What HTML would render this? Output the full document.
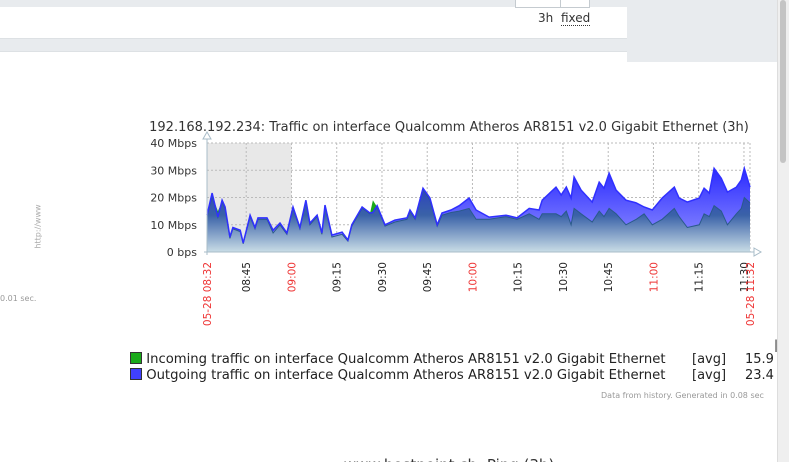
<!DOCTYPE html>
<html><head><meta charset="utf-8">
<style>
html,body{margin:0;padding:0;width:789px;height:462px;overflow:hidden;background:#fff;font-family:"DejaVu Sans","Liberation Sans",sans-serif;}
.abs{position:absolute;}
</style></head>
<body>
<div class="abs" style="left:0;top:0;width:627px;height:7px;background:#e8ebee;"></div>
<div class="abs" style="left:515px;top:-1px;width:44px;height:7px;background:#fff;border:1px solid #c5cbd0;"></div>
<div class="abs" style="left:560px;top:-1px;width:28px;height:7px;background:#fff;border:1px solid #c5cbd0;"></div>
<div class="abs" style="left:538px;top:11px;font-size:12px;color:#333;">3h</div>
<div class="abs" style="left:561px;top:11px;font-size:12px;color:#333;border-bottom:1px dotted #333;line-height:14px;">fixed</div>
<div class="abs" style="left:0;top:38px;width:627px;height:12px;background:#e8ebee;border-top:1px solid #dde1e4;border-bottom:1px solid #dde1e4;"></div>
<div class="abs" style="left:627px;top:0;width:150px;height:62px;background:#e8ebee;"></div>
<div class="abs" style="left:777px;top:0;width:12px;height:462px;background:#efefef;border-left:1px solid #ddd;"></div>
<div class="abs" style="left:780px;top:0;width:6px;height:163px;background:#c4c4c4;border-radius:3px;"></div>

<div class="abs" style="left:8px;top:222px;font-size:8px;color:#aaa;transform:rotate(-90deg);transform-origin:center;width:60px;text-align:center;">http://www</div>
<div class="abs" style="left:0;top:294px;font-size:8px;color:#999;">0.01 sec.</div>

<svg class="abs" style="left:0;top:0" width="777" height="462">
<defs>
<linearGradient id="gOut" x1="0" y1="0" x2="0" y2="1"><stop offset="0" stop-color="#2a2aff"/><stop offset="1" stop-color="#9a9aff"/></linearGradient>
<linearGradient id="gIn" gradientUnits="userSpaceOnUse" x1="0" y1="185" x2="0" y2="252"><stop offset="0" stop-color="#2a3fc0"/><stop offset="0.45" stop-color="#3a62a8"/><stop offset="1" stop-color="#c9dde6"/></linearGradient>
</defs>
<text x="449" y="131" text-anchor="middle" font-size="13" fill="#333">192.168.192.234: Traffic on interface Qualcomm Atheros AR8151 v2.0 Gigabit Ethernet (3h)</text>
<g id="plot"></g>
<text x="449" y="470" font-size="15" fill="#333" text-anchor="middle">www.hostpoint.ch: Ping (3h)</text>
</svg>

<div class="abs" style="left:130px;top:352px;font-size:13.2px;color:#222;white-space:nowrap;">
<span style="display:inline-block;width:10px;height:10px;background:#1aaa1a;border:1px solid #333;vertical-align:-1px;"></span> Incoming traffic on interface Qualcomm Atheros AR8151 v2.0 Gigabit Ethernet</div>
<div class="abs" style="left:130px;top:368px;font-size:13.2px;color:#222;white-space:nowrap;">
<span style="display:inline-block;width:10px;height:10px;background:#4040ff;border:1px solid #333;vertical-align:-1px;"></span> Outgoing traffic on interface Qualcomm Atheros AR8151 v2.0 Gigabit Ethernet</div>
<div class="abs" style="left:692px;top:352px;font-size:13px;color:#222;">[avg]</div>
<div class="abs" style="left:692px;top:368px;font-size:13px;color:#222;">[avg]</div>
<div class="abs" style="left:745px;top:352px;font-size:13px;color:#222;width:32px;overflow:hidden;">15.9</div>
<div class="abs" style="left:745px;top:368px;font-size:13px;color:#222;width:32px;overflow:hidden;">23.4</div>
<div class="abs" style="left:774px;top:338px;font-size:12px;color:#222;">|</div>
<div class="abs" style="left:601px;top:391px;font-size:8px;color:#999;white-space:nowrap;width:176px;overflow:hidden;">Data from history. Generated in 0.08 sec</div>

<script>
const minutes = [0,1.7,3.6,5,6,7.6,8.6,11,12,14.3,15.9,16.9,19.9,21.9,24.2,26.5,28.5,30.8,32.8,34.1,36.5,38.1,39.1,41.4,44.8,46.7,48,51.4,54,55,56.4,59,62.3,66.3,67.3,69,71.6,73.9,76.3,77.9,80.9,83.6,86.9,89.2,93.5,99.1,102.8,106.8,110.1,111.1,115.7,117.4,119.1,120.7,121.7,124,127.7,130,131.6,133.3,135.6,138.9,142.3,144.9,147.6,150.9,154.9,156.5,159.2,163.2,164.8,166.5,168.1,170.5,172.5,175.5,177.1,178.1,180];
const outgoing = [13.5,21.6,12.8,19,16.5,5.5,9,8,3.3,13.5,9,12.5,12.5,8,10.6,7,16.5,9,19,10.6,13.5,7,17.2,6.2,7.3,4.4,10,16.5,14.3,14.5,17,10,11.7,12.5,15.4,12.5,23.4,19.8,10,14.3,15.4,17,19.8,15.4,12.8,13.5,12.5,16,15.4,19,23.8,20.9,23.8,19.8,27.5,22.7,18.3,25.6,23.4,28.9,22.7,19,18,16.5,15.4,19.8,23.8,19.8,18.3,19.8,23.4,21.6,30.7,27,22,23.8,26.4,30.7,23.8];
const incoming = [13,20.5,15,18.5,16,5,8.5,7.5,3,13,8.5,12,12,7,10,6.5,16,8.5,18.5,10,13,6.5,17,5.5,6.5,4,9.5,16,14,19,16.5,9.5,11,12,15,12,23,19,9.5,13.5,14.5,15,16,12,12,13,12,14,12,14,14,13,15,10,16,14,11,15,13,16,14,10,12,14,10,12,16,13,9,10,14,13,17,15,10,14,16,20,18];
const yTicks = [0,10,20,30,40];
const yTickLabels = ["0 bps","10 Mbps","20 Mbps","30 Mbps","40 Mbps"];
const xTicks = [0,13,28,43,58,73,88,103,118,133,148,163,178,180];
const xTickLabels = ["05-28 08:32","08:45","09:00","09:15","09:30","09:45","10:00","10:15","10:30","10:45","11:00","11:15","11:30","05-28 11:32"];
const xTickRed = [true,false,true,false,false,false,true,false,false,false,true,false,false,true];

const X0=207,X1=750,Y0=252,Y1=143;
const xs=m=>X0+(X1-X0)*m/180;
const ys=v=>Y0-(Y0-Y1)*v/40;
const NS="http://www.w3.org/2000/svg";
const g=document.getElementById('plot');
function mk(tag,attrs){const e=document.createElementNS(NS,tag);for(const k in attrs)e.setAttribute(k,attrs[k]);g.appendChild(e);return e;}

const shade=mk('rect',{x:X0,y:Y1,width:xs(28)-X0,height:Y0-Y1,fill:'#e8e8e8'});



yTicks.forEach((v,i)=>{
  if(v>0){const l=mk('line',{x1:X0,x2:X1,y1:ys(v),y2:ys(v),stroke:'#bbb','stroke-dasharray':'2,2'});
  
  }
  const t=mk('text',{x:197,y:ys(v)+4,'text-anchor':'end','font-size':11,fill:'#333'});
  t.textContent=yTickLabels[i];
  
  
});
xTicks.forEach((m,i)=>{
  if(i>0){const l=mk('line',{x1:xs(m),x2:xs(m),y1:Y1,y2:Y0,stroke:'#bbb','stroke-dasharray':'2,2'});
  
  }
});

function path(arr){let d='M'+xs(minutes[0])+','+Y0;minutes.forEach((m,i)=>d+=' L'+xs(m).toFixed(1)+','+ys(arr[i]).toFixed(1));d+=' L'+xs(minutes[minutes.length-1])+','+Y0+'Z';return d;}
function line(arr){let d='';minutes.forEach((m,i)=>d+=(i?' L':'M')+xs(m).toFixed(1)+','+ys(arr[i]).toFixed(1));return d;}

const ga=mk('path',{d:path(incoming),fill:'#1aaa1a'});


const oa=mk('path',{d:path(outgoing),fill:'url(#gOut)'});


const ia=mk('path',{d:path(incoming.map((v,i)=>Math.min(v,outgoing[i]))),fill:'url(#gIn)'});


const il=mk('path',{d:line(incoming.map((v,i)=>Math.min(v,outgoing[i]))),fill:'none',stroke:'#2a5a8a','stroke-width':1});


const ol=mk('path',{d:line(outgoing),fill:'none',stroke:'#3030ff','stroke-width':1.5});



const ax=mk('line',{x1:X0,x2:X0,y1:Y1-5,y2:Y0+3,stroke:'#a8bcc8'});


const bx=mk('line',{x1:X0-3,x2:X1+8,y1:Y0,y2:Y0,stroke:'#a8bcc8'});


const ar1=mk('path',{d:`M${X0-4},${Y1-4} L${X0},${Y1-11} L${X0+4},${Y1-4}Z`,fill:'#fff',stroke:'#a8bcc8'});


const ar2=mk('path',{d:`M${X1+4},${Y0-4} L${X1+11},${Y0} L${X1+4},${Y0+4}Z`,fill:'#fff',stroke:'#a8bcc8'});



xTicks.forEach((m,i)=>{
  const x=xs(m)+4;
  const t=mk('text',{x:x,y:262,'text-anchor':'end','font-size':10.5,fill:xTickRed[i]?'#e33':'#222',transform:`rotate(-90 ${x} 262)`});
  t.textContent=xTickLabels[i];
  
  
});
</script>
</body></html>
